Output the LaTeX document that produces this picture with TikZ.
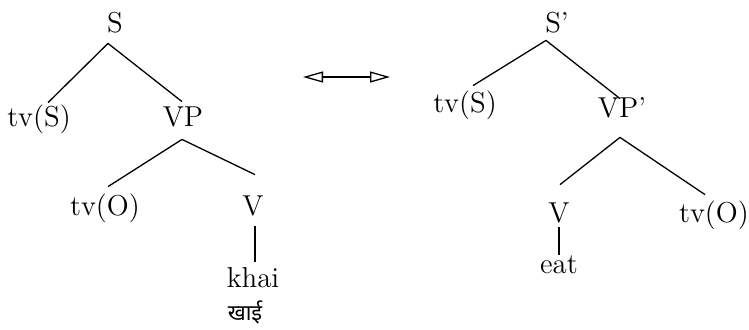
\documentclass[tikz,border=0pt]{standalone}
\usepackage{fontspec}
\newfontfamily\devfont[Script=Devanagari]{Noto Sans}
\usetikzlibrary{arrows.meta}
\tikzset{opentip/.tip={Triangle[open,length=10pt,width=5.5pt]}}
\begin{document}
\begin{tikzpicture}[x=0.5pt,y=-0.5pt,
  lbl/.style={anchor=base, font=\fontsize{14.4}{16}\selectfont, text height=7pt, text depth=2.5pt, inner sep=3pt},
  devlbl/.style={anchor=base, font=\devfont\fontsize{11}{13}\selectfont, inner sep=0pt},
  branch/.style={line width=0.65pt}]
\useasboundingbox (0,0) rectangle (749,329);
% left tree
\node[lbl] (S) at (115,32) {S};
\node[lbl] (tvS) at (39,126) {tv(S)};
\node[lbl] (VP) at (183,126) {VP};
\node[lbl] (tvO) at (105,215) {tv(O)};
\node[lbl] (V) at (253,215) {V};
\node[lbl] (khai) at (253,287) {khai};
\node[devlbl] (khaiB) at (245,320) {खाई};
\draw[branch] ([xshift=-3.5pt]S.south) -- ([xshift=4.5pt,yshift=1.5pt]tvS.north);
\draw[branch] ([xshift=-3.5pt]S.south) -- ([xshift=-0.5pt,yshift=2pt]VP.north);
\draw[branch] ([xshift=-0.5pt,yshift=-1pt]VP.south) -- ([xshift=1.5pt,yshift=4pt]tvO.north);
\draw[branch] ([xshift=-0.5pt,yshift=-1pt]VP.south) -- ([xshift=1pt,yshift=10pt]V.north);
\draw[branch] ([xshift=1pt]V.south) -- ([xshift=1pt,yshift=2.5pt]khai.north);
% arrow
\coordinate (a1) at (303,77);
\coordinate (a2) at (390,77);
\draw[branch, opentip-opentip] (a1) -- (a2);
% right tree
\node[lbl] (S2) at (557,32) {S'};
\node[lbl] (tvS2) at (465,112) {tv(S)};
\node[lbl] (VP2) at (622,117) {VP'};
\node[lbl] (V2) at (559,222) {V};
\node[lbl] (tvO2) at (714,222) {tv(O)};
\node[lbl] (eat) at (559,273) {eat};
\draw[branch] ([xshift=-5.5pt,yshift=1.5pt]S2.south) -- ([xshift=4pt,yshift=3pt]tvS2.north);
\draw[branch] ([xshift=-5.5pt,yshift=1.5pt]S2.south) -- ([xshift=-1pt,yshift=-1pt]VP2.north);
\draw[branch] ([xshift=-1pt,yshift=-4.5pt]VP2.south) -- ([xshift=0.5pt,yshift=8.5pt]V2.north);
\draw[branch] ([xshift=-1pt,yshift=-4.5pt]VP2.south) -- ([xshift=-4.5pt,yshift=3.5pt]tvO2.north);
\draw[branch] ([yshift=3pt]V2.south) -- ([yshift=-1pt]eat.north);
\end{tikzpicture}
\end{document}
